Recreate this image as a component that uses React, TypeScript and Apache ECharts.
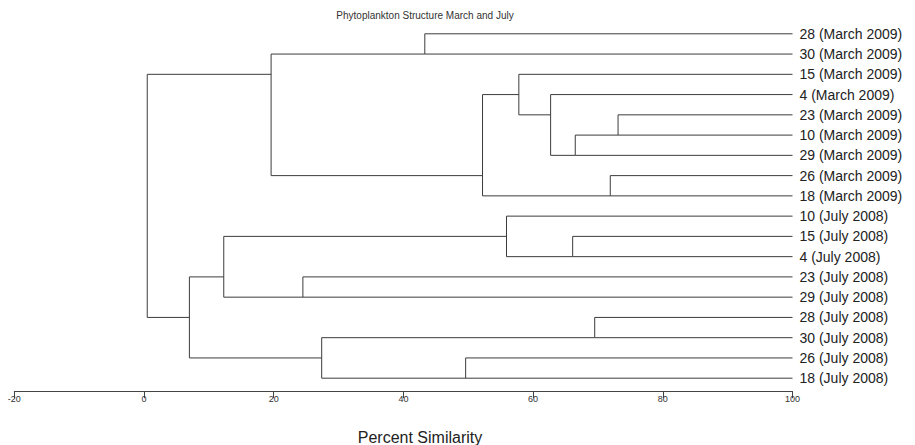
import React, { useEffect, useRef } from "react";
import * as echarts from "echarts";

const leaves: string[] = [
  "28 (March 2009)", "30 (March 2009)", "15 (March 2009)", "4 (March 2009)",
  "23 (March 2009)", "10 (March 2009)", "29 (March 2009)", "26 (March 2009)",
  "18 (March 2009)", "10 (July 2008)", "15 (July 2008)", "4 (July 2008)",
  "23 (July 2008)", "29 (July 2008)", "28 (July 2008)", "30 (July 2008)",
  "26 (July 2008)", "18 (July 2008)",
];

// merges: node id = leaves.length + index; [leftChild, rightChild]
const mergeLeft: number[] = [4, 7, 14, 18, 10, 3, 2, 9, 24, 16, 0, 20, 12, 28, 25, 32, 31];
const mergeRight: number[] = [5, 8, 15, 6, 11, 21, 23, 22, 19, 17, 1, 27, 13, 26, 30, 29, 33];
const mergeSimilarity: number[] = [73.1, 71.9, 69.5, 66.5, 66.1, 62.7, 57.8, 55.9, 52.2, 49.6, 43.3, 27.4, 24.5, 19.6, 12.3, 7.0, 0.5];
const leafSimilarity = 100;

const xTicks = { min: -20, max: 100, interval: 20 };
const titleText = "Phytoplankton Structure March and July";
const axisTitle = "Percent Similarity";

function buildNodes() {
  const n = leaves.length;
  const xs: number[] = [];
  const ys: number[] = [];
  const lo: number[] = [];
  const hi: number[] = [];
  for (let i = 0; i < n; i++) {
    xs[i] = leafSimilarity;
    ys[i] = i;
    lo[i] = i;
    hi[i] = i;
  }
  const items: number[][] = [];
  for (let j = 0; j < mergeLeft.length; j++) {
    const id = n + j;
    const a = mergeLeft[j];
    const b = mergeRight[j];
    lo[id] = Math.min(lo[a], lo[b]);
    hi[id] = Math.max(hi[a], hi[b]);
    xs[id] = mergeSimilarity[j];
    ys[id] = hi[a] + 0.5;
    items.push([xs[id], ys[id], xs[a], ys[a], xs[b], ys[b]]);
  }
  return items;
}

export default function App() {
  const ref = useRef<HTMLDivElement>(null);
  useEffect(() => {
    document.body.style.margin = "0";
    const chart = echarts.init(ref.current!, null, { renderer: "svg" });
    const items = buildNodes();
    const lineColor = "#3c3c3c";
    chart.setOption({
      animation: false,
      backgroundColor: "#ffffff",
      textStyle: { fontFamily: "Liberation Sans, Arial, sans-serif" },
      grid: { left: 14.3, right: 122.5, top: 33.8, bottom: 66.8, containLabel: false },
      xAxis: {
        type: "value",
        min: xTicks.min,
        max: xTicks.max,
        interval: xTicks.interval,
        offset: 13,
        splitLine: { show: false },
        axisLine: { show: true, lineStyle: { color: "#444", width: 1 } },
        axisTick: { show: true, length: 7, inside: false, lineStyle: { color: "#444" } },
        axisLabel: { fontSize: 9, color: "#333", margin: 3 },
      },
      yAxis: {
        type: "category",
        data: leaves,
        inverse: true,
        boundaryGap: false,
        position: "right",
        axisLine: { show: false },
        axisTick: { show: false },
        splitLine: { show: false },
        axisLabel: { fontSize: 14, color: "#222", margin: 7, interval: 0 },
      },
      graphic: [
        {
          type: "text",
          x: 425,
          y: 15.7,
          style: {
            text: titleText,
            fontSize: 10,
            fill: "#333",
            align: "center",
            verticalAlign: "middle",
            fontFamily: "Liberation Sans, Arial, sans-serif",
          },
        },
        {
          type: "text",
          x: 420,
          y: 437,
          style: {
            text: axisTitle,
            fontSize: 16,
            fill: "#222",
            align: "center",
            verticalAlign: "middle",
            fontFamily: "Liberation Sans, Arial, sans-serif",
          },
        },
      ],
      series: [
        {
          type: "custom",
          coordinateSystem: "cartesian2d",
          silent: true,
          encode: { x: [0, 2, 4], y: [1, 3, 5] },
          data: items,
          renderItem: (params: any, api: any) => {
            const x = api.value(0);
            const la = api.coord([api.value(2), api.value(3)]);
            const lb = api.coord([api.value(4), api.value(5)]);
            const ta = api.coord([x, api.value(3)]);
            const tb = api.coord([x, api.value(5)]);
            return {
              type: "polyline",
              shape: { points: [la, ta, tb, lb] },
              style: { stroke: lineColor, lineWidth: 1, fill: null },
            };
          },
        },
      ],
    });
    return () => chart.dispose();
  }, []);
  return (
    <div
      ref={ref}
      style={{ position: "absolute", left: 0, top: 0, width: 915, height: 445 }}
    />
  );
}
